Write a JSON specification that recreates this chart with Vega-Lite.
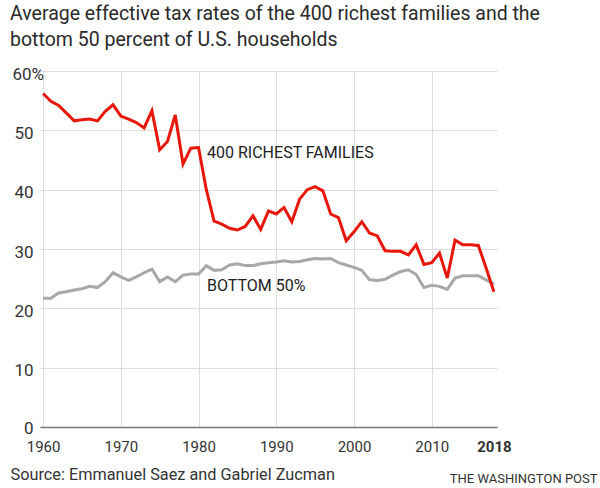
{
  "$schema": "https://vega.github.io/schema/vega-lite/v6.json",
  "width": 457,
  "height": 356,
  "autosize": "none",
  "padding": {"left": 40, "top": 71, "right": 103, "bottom": 61},
  "background": "white",
  "config": {"font": "Roboto", "view": {"stroke": null}},
  "title": {
    "text": ["Average effective tax rates of the 400 richest families and the", "bottom 50 percent of U.S. households"],
    "anchor": "start",
    "frame": "group",
    "dx": -30,
    "fontSize": 19.5,
    "fontWeight": "normal",
    "color": "#2a2a2a",
    "lineHeight": 26,
    "offset": 15
  },
  "data": {
    "values": [
      {"year": 1960, "series": "400 RICHEST FAMILIES", "rate": 56.2},
      {"year": 1961, "series": "400 RICHEST FAMILIES", "rate": 54.9},
      {"year": 1962, "series": "400 RICHEST FAMILIES", "rate": 54.2},
      {"year": 1963, "series": "400 RICHEST FAMILIES", "rate": 52.9},
      {"year": 1964, "series": "400 RICHEST FAMILIES", "rate": 51.6},
      {"year": 1965, "series": "400 RICHEST FAMILIES", "rate": 51.8},
      {"year": 1966, "series": "400 RICHEST FAMILIES", "rate": 51.9},
      {"year": 1967, "series": "400 RICHEST FAMILIES", "rate": 51.6},
      {"year": 1968, "series": "400 RICHEST FAMILIES", "rate": 53.2},
      {"year": 1969, "series": "400 RICHEST FAMILIES", "rate": 54.3},
      {"year": 1970, "series": "400 RICHEST FAMILIES", "rate": 52.4},
      {"year": 1971, "series": "400 RICHEST FAMILIES", "rate": 51.9},
      {"year": 1972, "series": "400 RICHEST FAMILIES", "rate": 51.3},
      {"year": 1973, "series": "400 RICHEST FAMILIES", "rate": 50.4},
      {"year": 1974, "series": "400 RICHEST FAMILIES", "rate": 53.3},
      {"year": 1975, "series": "400 RICHEST FAMILIES", "rate": 46.7},
      {"year": 1976, "series": "400 RICHEST FAMILIES", "rate": 48.1},
      {"year": 1977, "series": "400 RICHEST FAMILIES", "rate": 52.6},
      {"year": 1978, "series": "400 RICHEST FAMILIES", "rate": 44.3},
      {"year": 1979, "series": "400 RICHEST FAMILIES", "rate": 47.0},
      {"year": 1980, "series": "400 RICHEST FAMILIES", "rate": 47.1},
      {"year": 1981, "series": "400 RICHEST FAMILIES", "rate": 40.0},
      {"year": 1982, "series": "400 RICHEST FAMILIES", "rate": 34.7},
      {"year": 1983, "series": "400 RICHEST FAMILIES", "rate": 34.2},
      {"year": 1984, "series": "400 RICHEST FAMILIES", "rate": 33.5},
      {"year": 1985, "series": "400 RICHEST FAMILIES", "rate": 33.2},
      {"year": 1986, "series": "400 RICHEST FAMILIES", "rate": 33.8},
      {"year": 1987, "series": "400 RICHEST FAMILIES", "rate": 35.6},
      {"year": 1988, "series": "400 RICHEST FAMILIES", "rate": 33.3},
      {"year": 1989, "series": "400 RICHEST FAMILIES", "rate": 36.4},
      {"year": 1990, "series": "400 RICHEST FAMILIES", "rate": 35.9},
      {"year": 1991, "series": "400 RICHEST FAMILIES", "rate": 37.0},
      {"year": 1992, "series": "400 RICHEST FAMILIES", "rate": 34.6},
      {"year": 1993, "series": "400 RICHEST FAMILIES", "rate": 38.4},
      {"year": 1994, "series": "400 RICHEST FAMILIES", "rate": 40.0},
      {"year": 1995, "series": "400 RICHEST FAMILIES", "rate": 40.5},
      {"year": 1996, "series": "400 RICHEST FAMILIES", "rate": 39.8},
      {"year": 1997, "series": "400 RICHEST FAMILIES", "rate": 35.9},
      {"year": 1998, "series": "400 RICHEST FAMILIES", "rate": 35.3},
      {"year": 1999, "series": "400 RICHEST FAMILIES", "rate": 31.4},
      {"year": 2000, "series": "400 RICHEST FAMILIES", "rate": 32.9},
      {"year": 2001, "series": "400 RICHEST FAMILIES", "rate": 34.6},
      {"year": 2002, "series": "400 RICHEST FAMILIES", "rate": 32.7},
      {"year": 2003, "series": "400 RICHEST FAMILIES", "rate": 32.2},
      {"year": 2004, "series": "400 RICHEST FAMILIES", "rate": 29.7},
      {"year": 2005, "series": "400 RICHEST FAMILIES", "rate": 29.6},
      {"year": 2006, "series": "400 RICHEST FAMILIES", "rate": 29.6},
      {"year": 2007, "series": "400 RICHEST FAMILIES", "rate": 29.0},
      {"year": 2008, "series": "400 RICHEST FAMILIES", "rate": 30.7},
      {"year": 2009, "series": "400 RICHEST FAMILIES", "rate": 27.4},
      {"year": 2010, "series": "400 RICHEST FAMILIES", "rate": 27.7},
      {"year": 2011, "series": "400 RICHEST FAMILIES", "rate": 29.3},
      {"year": 2012, "series": "400 RICHEST FAMILIES", "rate": 25.1},
      {"year": 2013, "series": "400 RICHEST FAMILIES", "rate": 31.5},
      {"year": 2014, "series": "400 RICHEST FAMILIES", "rate": 30.7},
      {"year": 2015, "series": "400 RICHEST FAMILIES", "rate": 30.7},
      {"year": 2016, "series": "400 RICHEST FAMILIES", "rate": 30.6},
      {"year": 2017, "series": "400 RICHEST FAMILIES", "rate": 26.8},
      {"year": 2018, "series": "400 RICHEST FAMILIES", "rate": 22.8},
      {"year": 1960, "series": "BOTTOM 50%", "rate": 21.7},
      {"year": 1961, "series": "BOTTOM 50%", "rate": 21.7},
      {"year": 1962, "series": "BOTTOM 50%", "rate": 22.6},
      {"year": 1963, "series": "BOTTOM 50%", "rate": 22.8},
      {"year": 1964, "series": "BOTTOM 50%", "rate": 23.1},
      {"year": 1965, "series": "BOTTOM 50%", "rate": 23.3},
      {"year": 1966, "series": "BOTTOM 50%", "rate": 23.7},
      {"year": 1967, "series": "BOTTOM 50%", "rate": 23.5},
      {"year": 1968, "series": "BOTTOM 50%", "rate": 24.5},
      {"year": 1969, "series": "BOTTOM 50%", "rate": 26.0},
      {"year": 1970, "series": "BOTTOM 50%", "rate": 25.3},
      {"year": 1971, "series": "BOTTOM 50%", "rate": 24.7},
      {"year": 1972, "series": "BOTTOM 50%", "rate": 25.3},
      {"year": 1973, "series": "BOTTOM 50%", "rate": 26.0},
      {"year": 1974, "series": "BOTTOM 50%", "rate": 26.6},
      {"year": 1975, "series": "BOTTOM 50%", "rate": 24.5},
      {"year": 1976, "series": "BOTTOM 50%", "rate": 25.3},
      {"year": 1977, "series": "BOTTOM 50%", "rate": 24.5},
      {"year": 1978, "series": "BOTTOM 50%", "rate": 25.6},
      {"year": 1979, "series": "BOTTOM 50%", "rate": 25.8},
      {"year": 1980, "series": "BOTTOM 50%", "rate": 25.8},
      {"year": 1981, "series": "BOTTOM 50%", "rate": 27.2},
      {"year": 1982, "series": "BOTTOM 50%", "rate": 26.4},
      {"year": 1983, "series": "BOTTOM 50%", "rate": 26.5},
      {"year": 1984, "series": "BOTTOM 50%", "rate": 27.3},
      {"year": 1985, "series": "BOTTOM 50%", "rate": 27.5},
      {"year": 1986, "series": "BOTTOM 50%", "rate": 27.2},
      {"year": 1987, "series": "BOTTOM 50%", "rate": 27.2},
      {"year": 1988, "series": "BOTTOM 50%", "rate": 27.5},
      {"year": 1989, "series": "BOTTOM 50%", "rate": 27.7},
      {"year": 1990, "series": "BOTTOM 50%", "rate": 27.8},
      {"year": 1991, "series": "BOTTOM 50%", "rate": 28.0},
      {"year": 1992, "series": "BOTTOM 50%", "rate": 27.8},
      {"year": 1993, "series": "BOTTOM 50%", "rate": 27.9},
      {"year": 1994, "series": "BOTTOM 50%", "rate": 28.2},
      {"year": 1995, "series": "BOTTOM 50%", "rate": 28.4},
      {"year": 1996, "series": "BOTTOM 50%", "rate": 28.3},
      {"year": 1997, "series": "BOTTOM 50%", "rate": 28.4},
      {"year": 1998, "series": "BOTTOM 50%", "rate": 27.7},
      {"year": 1999, "series": "BOTTOM 50%", "rate": 27.3},
      {"year": 2000, "series": "BOTTOM 50%", "rate": 26.9},
      {"year": 2001, "series": "BOTTOM 50%", "rate": 26.4},
      {"year": 2002, "series": "BOTTOM 50%", "rate": 24.8},
      {"year": 2003, "series": "BOTTOM 50%", "rate": 24.7},
      {"year": 2004, "series": "BOTTOM 50%", "rate": 24.9},
      {"year": 2005, "series": "BOTTOM 50%", "rate": 25.6},
      {"year": 2006, "series": "BOTTOM 50%", "rate": 26.2},
      {"year": 2007, "series": "BOTTOM 50%", "rate": 26.5},
      {"year": 2008, "series": "BOTTOM 50%", "rate": 25.7},
      {"year": 2009, "series": "BOTTOM 50%", "rate": 23.5},
      {"year": 2010, "series": "BOTTOM 50%", "rate": 23.9},
      {"year": 2011, "series": "BOTTOM 50%", "rate": 23.7},
      {"year": 2012, "series": "BOTTOM 50%", "rate": 23.2},
      {"year": 2013, "series": "BOTTOM 50%", "rate": 25.1},
      {"year": 2014, "series": "BOTTOM 50%", "rate": 25.5},
      {"year": 2015, "series": "BOTTOM 50%", "rate": 25.5},
      {"year": 2016, "series": "BOTTOM 50%", "rate": 25.5},
      {"year": 2017, "series": "BOTTOM 50%", "rate": 24.8},
      {"year": 2018, "series": "BOTTOM 50%", "rate": 24.1}
    ]
  },
  "encoding": {
    "x": {
      "field": "year",
      "type": "quantitative",
      "scale": {"domain": [1959.6, 2018.4], "nice": false, "zero": false},
      "axis": {
        "values": [1960, 1970, 1980, 1990, 2000, 2010, 2018],
        "format": "d",
        "labelFontSize": 15,
        "labelColor": "#333",
        "labelPadding": 12,
        "labelFontWeight": {"condition": {"test": "datum.value == 2018", "value": "bold"}, "value": "normal"},
        "ticks": false,
        "domainColor": "#777",
        "domainWidth": 1.5,
        "grid": true,
        "gridColor": "#ddd",
        "gridOpacity": {"condition": {"test": "datum.value == 2018", "value": 0}, "value": 1},
        "title": "Source: Emmanuel Saez and Gabriel Zucman",
        "titleFontSize": 16.3,
        "titleFontWeight": "normal",
        "titleColor": "#333",
        "titleAlign": "left",
        "titleAnchor": "start",
        "titleBaseline": "middle",
        "titleX": -30,
        "titleY": 47
      }
    },
    "y": {
      "field": "rate",
      "type": "quantitative",
      "scale": {"domain": [0, 60], "nice": false},
      "axis": {
        "values": [0, 10, 20, 30, 40, 50, 60],
        "labelExpr": "datum.value == 60 ? '60%' : datum.label",
        "labelAlign": {"condition": {"test": "datum.value == 60", "value": "left"}, "value": "right"},
        "labelPadding": {"condition": {"test": "datum.value == 60", "value": 28}, "value": 7},
        "labelBaseline": "middle",
        "labelOffset": {"condition": {"test": "datum.value == 0", "value": 1}, "value": 3},
        "labelFontSize": 17,
        "labelColor": "#333",
        "ticks": false,
        "domain": false,
        "grid": true,
        "gridColor": "#ddd",
        "title": "THE WASHINGTON POST",
        "titleAngle": 0,
        "titleAlign": "right",
        "titleBaseline": "middle",
        "titleX": 557,
        "titleY": 407,
        "titleFontSize": 13,
        "titleFontWeight": "normal",
        "titleColor": "#333"
      }
    }
  },
  "layer": [
    {
      "transform": [{"filter": "datum.series == 'BOTTOM 50%'"}],
      "mark": {"type": "line", "color": "#a8a8a8", "strokeWidth": 3}
    },
    {
      "transform": [{"filter": "datum.series == '400 RICHEST FAMILIES'"}],
      "mark": {"type": "line", "color": "#e8170c", "strokeWidth": 3}
    },
    {
      "transform": [{"filter": "datum.series == '400 RICHEST FAMILIES' && datum.year == 1980"}],
      "mark": {"type": "text", "align": "left", "baseline": "alphabetic", "dx": 8.5, "dy": 10.5, "fontSize": 16, "color": "#222"},
      "encoding": {"text": {"field": "series"}}
    },
    {
      "transform": [{"filter": "datum.series == 'BOTTOM 50%' && datum.year == 1980"}],
      "mark": {"type": "text", "align": "left", "baseline": "alphabetic", "dx": 8.5, "dy": 17, "fontSize": 16, "color": "#222"},
      "encoding": {"text": {"field": "series"}}
    }
  ]
}
